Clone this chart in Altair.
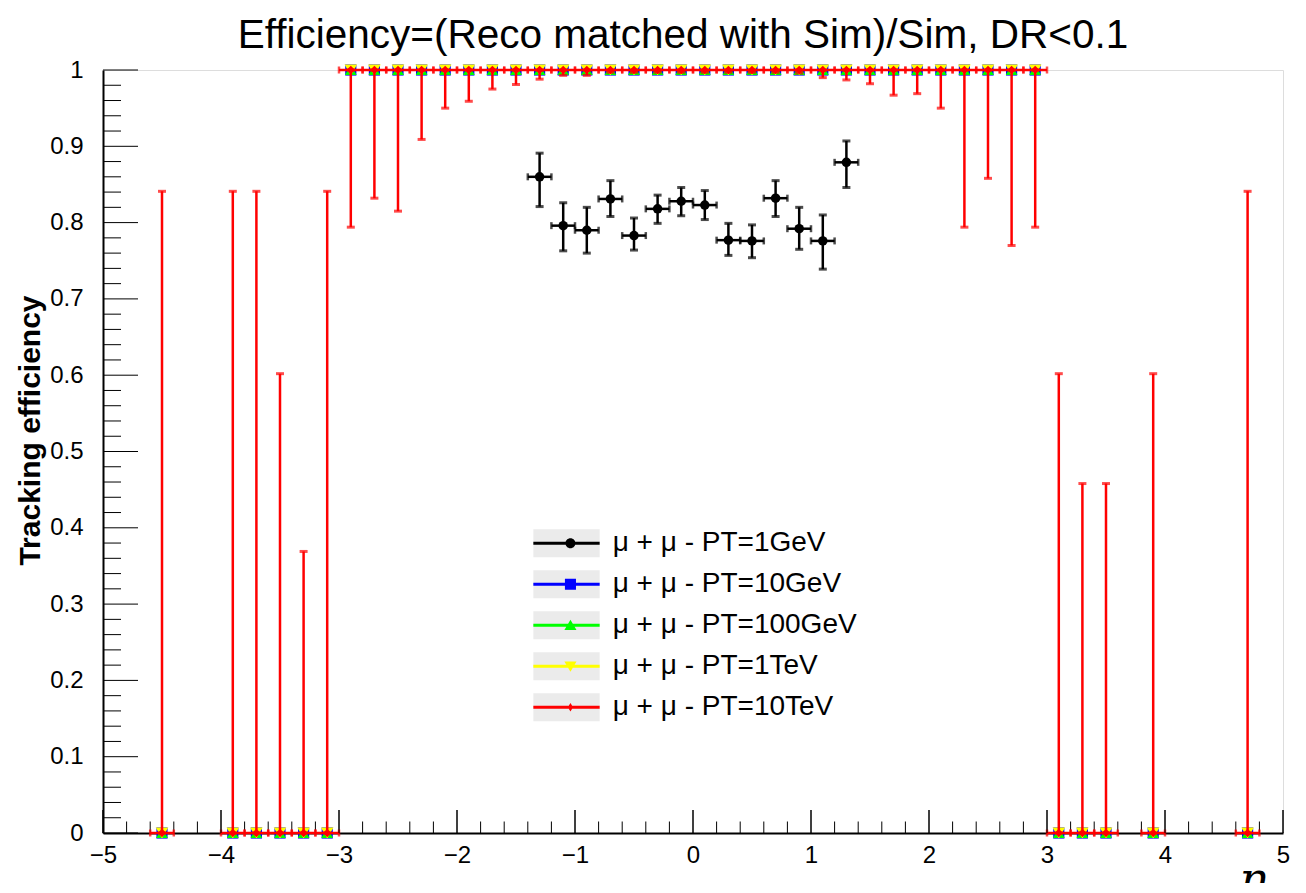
import altair as alt
import pandas as pd

# ---------------- text ----------------
TITLE = "Efficiency=(Reco matched with Sim)/Sim, DR<0.1"
Y_TITLE = "Tracking efficiency"
X_TITLE = "η"

series_labels = [
    "μ + μ - PT=1GeV",
    "μ + μ - PT=10GeV",
    "μ + μ - PT=100GeV",
    "μ + μ - PT=1TeV",
    "μ + μ - PT=10TeV",
]
series_colors = ["#000000", "#0000ff", "#00ff00", "#ffff00", "#ff0000"]
# keys for the grey boxes behind the legend symbols
box_keys = ["box1", "box2", "box3", "box4", "box5"]
legend_box_color = "#ebebeb"

# ---------------- data: PT = 1 GeV ----------------
gev1_eta = [-1.3, -1.1, -0.9, -0.7, -0.5, -0.3, -0.1, 0.1, 0.3, 0.5, 0.7, 0.9, 1.1, 1.3]
gev1_eff = [0.860, 0.796, 0.790, 0.831, 0.783, 0.818, 0.828, 0.823, 0.777, 0.776, 0.832, 0.792, 0.776, 0.879]
gev1_lo = [0.821, 0.763, 0.760, 0.808, 0.764, 0.799, 0.809, 0.804, 0.757, 0.754, 0.808, 0.765, 0.739, 0.846]
gev1_hi = [0.891, 0.826, 0.820, 0.855, 0.806, 0.836, 0.846, 0.842, 0.799, 0.797, 0.855, 0.820, 0.810, 0.907]

# ---------------- data: PT = 10 GeV ... 10 TeV (identical) ----------------
high_eta = [-4.5, -3.9, -3.7, -3.5, -3.3, -3.1,
            -2.9, -2.7, -2.5, -2.3, -2.1, -1.9, -1.7, -1.5, -1.3, -1.1,
            -0.9, -0.7, -0.5, -0.3, -0.1, 0.1, 0.3, 0.5, 0.7, 0.9,
            1.1, 1.3, 1.5, 1.7, 1.9, 2.1, 2.3, 2.5, 2.7, 2.9,
            3.1, 3.3, 3.5, 3.9, 4.7]
high_eff = [0, 0, 0, 0, 0, 0,
            1, 1, 1, 1, 1, 1, 1, 1, 1, 1,
            1, 1, 1, 1, 1, 1, 1, 1, 1, 1,
            1, 1, 1, 1, 1, 1, 1, 1, 1, 1,
            0, 0, 0, 0, 0]
high_lo = [0, 0, 0, 0, 0, 0,
           0.794, 0.832, 0.815, 0.909, 0.950, 0.959, 0.975, 0.981, 0.988, 0.993,
           0.993, 0.997, 0.997, 0.997, 0.997, 0.997, 0.997, 0.997, 0.997, 0.996,
           0.990, 0.987, 0.982, 0.967, 0.969, 0.950, 0.794, 0.858, 0.770, 0.794,
           0, 0, 0, 0, 0]
high_hi = [0.841, 0.841, 0.841, 0.602, 0.369, 0.841,
           1, 1, 1, 1, 1, 1, 1, 1, 1, 1,
           1, 1, 1, 1, 1, 1, 1, 1, 1, 1,
           1, 1, 1, 1, 1, 1, 1, 1, 1, 1,
           0.602, 0.458, 0.458, 0.602, 0.841]
BIN_HALF = 0.1

# ---------------- axis ticks ----------------
x_major = [-5, -4, -3, -2, -1, 0, 1, 2, 3, 4, 5]
x_minor = [round(-5 + 0.2 * i, 1) for i in range(51) if i % 5 != 0]
y_major = [0, 0.1, 0.2, 0.3, 0.4, 0.5, 0.6, 0.7, 0.8, 0.9, 1.0]
y_minor = [round(0.02 * i, 2) for i in range(51) if i % 5 != 0]

W, H = 1180, 763
FONT = "Liberation Sans"

gev1 = pd.DataFrame({"eta": gev1_eta, "eff": gev1_eff, "lo": gev1_lo, "hi": gev1_hi})
high = pd.DataFrame({"eta": high_eta, "eff": high_eff, "lo": high_lo, "hi": high_hi})

xscale = alt.Scale(domain=[-5, 5], nice=False, zero=False)
yscale = alt.Scale(domain=[0, 1], nice=False, zero=False)

X_AXIS = alt.Axis(values=x_major, format="d", title=X_TITLE, titleFont="DejaVu Serif",
                  titleFontStyle="italic", titleFontWeight="normal", titleFontSize=46,
                  titleX=1149, titleY=25, titleAlign="center", titleBaseline="top",
                  ticks=False, grid=False, domainColor="black", domainWidth=2,
                  labelFont=FONT, labelFontSize=24, labelColor="black", labelPadding=10,
                  labelOverlap=False, labelFlush=False, labelBound=False)
Y_AXIS = alt.Axis(values=y_major, format="~g", title=Y_TITLE, titleFont=FONT,
                  titleFontWeight="bold", titleFontSize=30, titleColor="black",
                  titleX=-73, titleY=360, titleAngle=270, titleAlign="center",
                  titleBaseline="middle",
                  ticks=False, grid=False, domainColor="black", domainWidth=2,
                  labelFont=FONT, labelFontSize=24, labelColor="black", labelPadding=20,
                  labelOverlap=False, labelFlush=False, labelBound=False)
TOP_AXIS = alt.Axis(orient="top", labels=False, ticks=False, domain=False, grid=False,
                    title=TITLE, titleFont=FONT, titleFontSize=40.5, titleFontWeight="normal",
                    titleColor="black", titleX=579.5, titleY=-23, titleAlign="center",
                    titleBaseline="alphabetic")


def X(field, axis=X_AXIS):
    return alt.X(field, type="quantitative", scale=xscale, axis=axis)


def Y(field):
    return alt.Y(field, type="quantitative", scale=yscale, axis=Y_AXIS)


# inner ticks
xminor_l = alt.Chart(pd.DataFrame({"t": x_minor})).mark_rule(color="black", strokeWidth=1).encode(
    x=X("t"), y=alt.value(H), y2=alt.value(H - 11.5))
xmajor_l = alt.Chart(pd.DataFrame({"t": x_major})).mark_rule(color="black", strokeWidth=1).encode(
    x=X("t"), y=alt.value(H), y2=alt.value(H - 23))
yminor_l = alt.Chart(pd.DataFrame({"t": y_minor})).mark_rule(color="black", strokeWidth=1).encode(
    y=Y("t"), x=alt.value(0), x2=alt.value(18))
ymajor_l = alt.Chart(pd.DataFrame({"t": y_major})).mark_rule(color="black", strokeWidth=1).encode(
    y=Y("t"), x=alt.value(0), x2=alt.value(35))
# carrier of the top title (same major tick positions, top axis)
title_l = alt.Chart(pd.DataFrame({"t": x_major})).mark_rule(color="black", strokeWidth=1).encode(
    x=X("t", TOP_AXIS), y=alt.value(H), y2=alt.value(H - 23))


def error_layers(df, color):
    base = alt.Chart(df).transform_calculate(
        x0=f"datum.eta - {BIN_HALF}", x1=f"datum.eta + {BIN_HALF}")
    hbar = base.mark_rule(color=color, strokeWidth=2.5).encode(x=X("x0"), x2="x1", y=Y("eff"))
    vbar = base.mark_rule(color=color, strokeWidth=2.5).encode(x=X("eta"), y=Y("lo"), y2="hi")
    cap_lo = base.mark_tick(color=color, orient="horizontal", size=8, thickness=3).encode(
        x=X("eta"), y=Y("lo"))
    cap_hi = base.mark_tick(color=color, orient="horizontal", size=8, thickness=3).encode(
        x=X("eta"), y=Y("hi"))
    cap_l = base.mark_tick(color=color, orient="vertical", size=7, thickness=2.5).encode(
        x=X("x0"), y=Y("eff"))
    cap_r = base.mark_tick(color=color, orient="vertical", size=7, thickness=2.5).encode(
        x=X("x1"), y=Y("eff"))
    return [hbar, vbar, cap_lo, cap_hi, cap_l, cap_r]


def markers(df, color, shape, size):
    return alt.Chart(df).mark_point(filled=True, opacity=1, strokeWidth=0).encode(
        x=X("eta"), y=Y("eff"), color=alt.value(color), shape=alt.value(shape),
        size=alt.value(size))


black_layers = error_layers(gev1, series_colors[0]) + [markers(gev1, series_colors[0], "circle", 90)]
other_markers = [
    markers(high, series_colors[1], "square", 125),
    markers(high, series_colors[2], "triangle-up", 140),
    markers(high, series_colors[3], "triangle-down", 160),
]
red_layers = error_layers(high, series_colors[4]) + [markers(high, series_colors[4], "diamond", 75)]

# legend: line with the series marker on it, over a light grey box
# (symbol scale = sqrt(2770)/2 = 26.3 px per path unit)
LINE = "M-1.26,-0.057H1.26V0.057H-1.26Z"
legend_paths = [
    LINE + "M0.34,0A0.19,0.19 0 1,1 -0.04,0A0.19,0.19 0 1,1 0.34,0Z",
    LINE + "M-0.06,-0.21H0.36V0.21H-0.06Z",
    LINE + "M0.15,-0.21L0.38,0.18H-0.08Z",
    LINE + "M-0.08,-0.18H0.38L0.15,0.21Z",
    LINE + "M0.15,-0.16L0.25,0L0.15,0.16L0.05,0Z",
]
BOX = "M-1.26,-0.53H1.26V0.53H-1.26Z"
LEG = dict(title=None, orient="none", legendX=437, legendY=446.7,
           labelFont=FONT, labelFontSize=28, labelColor="black",
           symbolSize=2770, symbolStrokeWidth=0, symbolOpacity=1,
           labelOffset=19.7, labelLimit=0, rowPadding=0)

box_layer = alt.Chart(pd.DataFrame({"box": box_keys})).mark_point(filled=True, opacity=0).encode(
    color=alt.Color("box:N", scale=alt.Scale(domain=box_keys,
                                             range=[legend_box_color] * len(box_keys)),
                    legend=alt.Legend(symbolType=BOX, labelExpr="''", **LEG)),
)
legend_layer = alt.Chart(pd.DataFrame({"series": series_labels})).mark_point(
    filled=True, opacity=0).encode(
    fill=alt.Fill("series:N", scale=alt.Scale(domain=series_labels, range=series_colors),
                  legend=alt.Legend(**LEG)),
    shape=alt.Shape("series:N", scale=alt.Scale(domain=series_labels, range=legend_paths),
                    legend=alt.Legend(**LEG)),
)

main = alt.layer(
    xminor_l, xmajor_l, yminor_l, ymajor_l,
    *black_layers, *other_markers, *red_layers, box_layer, legend_layer,
)

chart = alt.layer(main, title_l).resolve_axis(x="independent").properties(
    width=W, height=H,
    autosize=alt.AutoSizeParams(type="none"),
    padding={"left": 95, "top": 62, "right": 15, "bottom": 50},
).configure_view(stroke="black", strokeWidth=1.5).configure(background="white")

chart.save("out.html", embed_options={"renderer": "svg", "actions": False})
